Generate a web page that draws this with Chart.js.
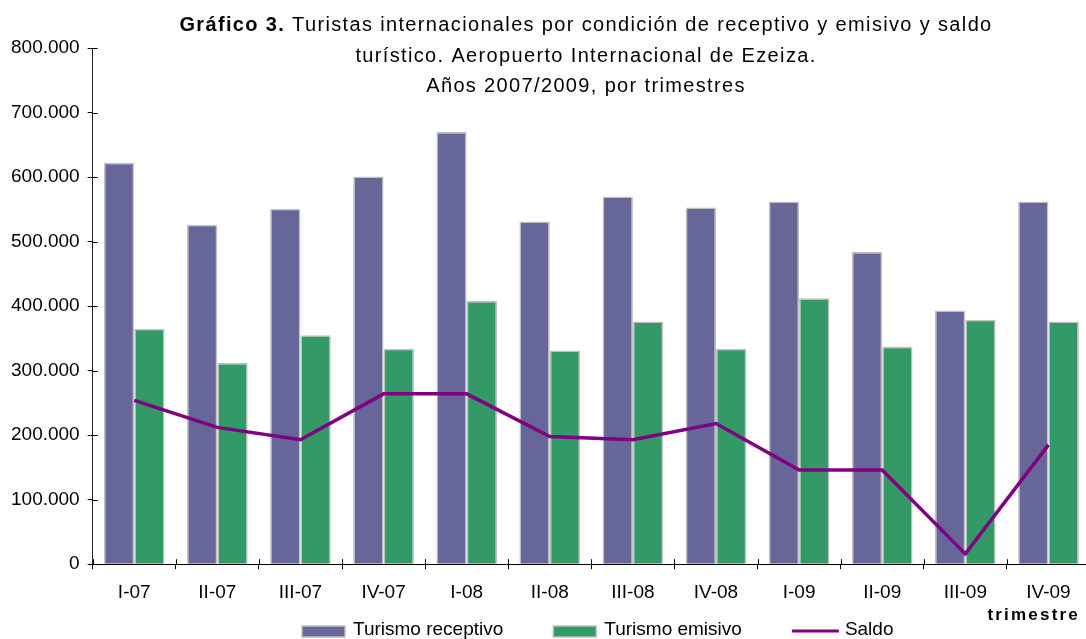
<!DOCTYPE html>
<html>
<head>
<meta charset="utf-8">
<script src="https://cdn.jsdelivr.net/npm/chart.js@4.4.1/dist/chart.umd.min.js"></script>
<style>
  html, body { margin: 0; padding: 0; background: #fff; overflow: hidden; }
  #wrap { width: 1100px; height: 639px; }
</style>
</head>
<body>
<div id="wrap"><canvas id="myChart"></canvas></div>
<script>
// datos
const trimestres = ['I-07', 'II-07', 'III-07', 'IV-07', 'I-08', 'II-08', 'III-08', 'IV-08', 'I-09', 'II-09', 'III-09', 'IV-09'];
const receptivo = [622000, 526000, 551000, 601000, 670000, 531000, 570000, 553000, 562000, 484000, 393000, 562000];
const emisivo = [365000, 312000, 355000, 334000, 408000, 331000, 376000, 334000, 412000, 337000, 379000, 376000];
const saldo = [254000, 212000, 193000, 264000, 264000, 198000, 193000, 218000, 146000, 146000, 16000, 185000];
const tituloLineas = [
  ['Gráfico 3.', ' Turistas internacionales por condición de receptivo y emisivo y saldo'],
  ['', 'turístico. Aeropuerto Internacional de Ezeiza.'],
  ['', 'Años 2007/2009, por trimestres']
];
const tituloEjeX = 'trimestre';

const fuente = '"Liberation Sans", Arial, sans-serif';

function puntos(v) {
  return String(v).replace(/\B(?=(\d{3})+(?!\d))/g, '.');
}

// titulo, leyenda y marcas cruzadas dibujadas a mano
const extrasPlugin = {
  id: 'extras',
  afterDraw(chart) {
    const ctx = chart.ctx;
    const area = chart.chartArea;
    ctx.save();
    ctx.fillStyle = '#000';
    ctx.textBaseline = 'middle';
    ctx.textAlign = 'left';

    // titulo
    ctx.letterSpacing = '1.35px';
    const cx = 586;
    const ys = [25, 56, 86];
    tituloLineas.forEach((l, i) => {
      ctx.font = 'bold 20px ' + fuente;
      const wb = ctx.measureText(l[0]).width;
      ctx.font = '20px ' + fuente;
      const wn = ctx.measureText(l[1]).width;
      const x = cx - (wb + wn) / 2;
      ctx.font = 'bold 20px ' + fuente;
      ctx.fillText(l[0], x, ys[i]);
      ctx.font = '20px ' + fuente;
      ctx.fillText(l[1], x + wb, ys[i]);
    });

    // titulo del eje x
    ctx.letterSpacing = '2.2px';
    ctx.font = 'bold 17px ' + fuente;
    ctx.textAlign = 'right';
    ctx.fillText(tituloEjeX, 1080, 615);
    ctx.letterSpacing = '0px';

    // leyenda
    ctx.textAlign = 'left';
    ctx.font = '19px ' + fuente;
    const yl = 631;
    let x = 302;
    const orden = [1, 2, 0];
    orden.forEach((i) => {
      const ds = chart.data.datasets[i];
      if (ds.type === 'line') {
        ctx.strokeStyle = ds.borderColor;
        ctx.lineWidth = 3;
        ctx.beginPath();
        ctx.moveTo(x, yl);
        ctx.lineTo(x + 47, yl);
        ctx.stroke();
        x += 53;
      } else {
        ctx.fillStyle = ds.backgroundColor;
        ctx.fillRect(x, yl - 5, 43, 11);
        ctx.strokeStyle = '#c0c0c0';
        ctx.lineWidth = 1.5;
        ctx.strokeRect(x, yl - 5, 43, 11);
        x += 51;
      }
      ctx.fillStyle = '#000';
      ctx.fillText(ds.label, x, yl - 1);
      x += ctx.measureText(ds.label).width + 50;
    });

    // marcas cruzadas en los ejes (parte interior)
    const xs = chart.scales.x, yS = chart.scales.y;
    ctx.strokeStyle = '#000';
    ctx.lineWidth = 1;
    yS.ticks.forEach((t) => {
      const y = Math.round(yS.getPixelForValue(t.value)) + 0.5;
      ctx.beginPath();
      ctx.moveTo(area.left, y);
      ctx.lineTo(area.left + 5, y);
      ctx.stroke();
    });
    for (let i = 0; i <= trimestres.length; i++) {
      const xx = Math.round(xs.left + i * (xs.width / trimestres.length)) + 0.5;
      ctx.beginPath();
      ctx.moveTo(xx, area.bottom - 5);
      ctx.lineTo(xx, area.bottom);
      ctx.stroke();
    }
    ctx.restore();
  }
};

new Chart(document.getElementById('myChart'), {
  type: 'bar',
  data: {
    labels: trimestres,
    datasets: [
      {
        type: 'line',
        label: 'Saldo',
        data: saldo,
        borderColor: '#800080',
        backgroundColor: '#800080',
        borderWidth: 3.5,
        pointRadius: 0,
        tension: 0,
        order: 0
      },
      {
        label: 'Turismo receptivo',
        data: receptivo,
        backgroundColor: '#666699',
        borderColor: '#c0c0c0',
        borderWidth: 1.5,
        order: 1
      },
      {
        label: 'Turismo emisivo',
        data: emisivo,
        backgroundColor: '#339966',
        borderColor: '#c0c0c0',
        borderWidth: 1.5,
        order: 1
      }
    ]
  },
  options: {
    responsive: true,
    maintainAspectRatio: false,
    animation: false,
    layout: { padding: { top: 48, left: 3, right: 10, bottom: 23 } },
    datasets: {
      bar: { categoryPercentage: 0.73, barPercentage: 1 }
    },
    scales: {
      x: {
        offset: true,
        grid: { display: true, drawOnChartArea: false, offset: true, color: '#000', tickLength: 5 },
        border: { color: '#000', width: 1 },
        ticks: { color: '#000', font: { family: fuente, size: 19 }, maxRotation: 0, padding: 12 }
      },
      y: {
        min: 0,
        max: 800000,
        grid: { display: true, drawOnChartArea: false, color: '#000', tickLength: 5 },
        border: { color: '#222', width: 1 },
        ticks: {
          stepSize: 100000,
          color: '#000',
          font: { family: fuente, size: 19 },
          padding: 8,
          callback: (v) => puntos(v)
        }
      }
    },
    plugins: {
      title: { display: false },
      tooltip: { enabled: false },
      legend: { display: false }
    }
  },
  plugins: [extrasPlugin]
});
</script>
</body>
</html>
